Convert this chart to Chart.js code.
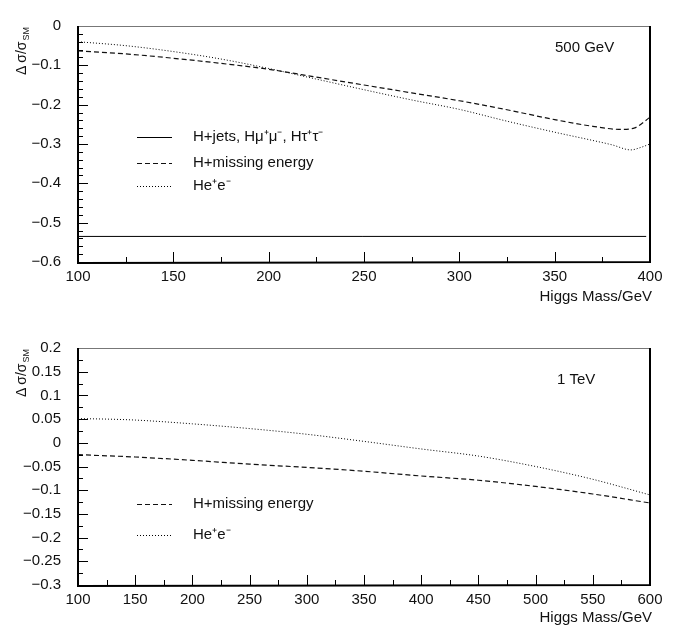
<!DOCTYPE html>
<html>
<head>
<meta charset="utf-8">
<script src="https://cdn.jsdelivr.net/npm/chart.js@4.4.1/dist/chart.umd.min.js"></script>
<style>
  body { margin: 0; background: #fff; width: 688px; height: 631px; overflow: hidden; position: relative; }
  .panel { position: absolute; left: 0; width: 688px; }
  #top { top: 0; height: 310px; }
  #bottom { top: 322px; height: 309px; }
</style>
</head>
<body>
<div class="panel" id="top"><canvas id="chart500" width="688" height="310"></canvas></div>
<div class="panel" id="bottom"><canvas id="chart1000" width="688" height="309"></canvas></div>
<script>
// --- 500 GeV panel ---
const jetsMass500 = [100, 398];
const jetsDelta500 = [-0.535, -0.535];
const missMass500 = [100, 125, 150, 175, 200, 225, 250, 275, 300, 325, 350, 370, 385, 392, 400];
const missDelta500 = [-0.063, -0.071, -0.082, -0.095, -0.110, -0.130, -0.150, -0.170, -0.190, -0.213, -0.238, -0.255, -0.263, -0.259, -0.232];
const eeMass500 = [100, 125, 150, 175, 200, 225, 250, 275, 300, 325, 350, 370, 380, 390, 395, 400];
const eeDelta500 = [-0.040, -0.050, -0.065, -0.084, -0.108, -0.135, -0.162, -0.188, -0.212, -0.242, -0.270, -0.291, -0.302, -0.315, -0.309, -0.300];
const xTicks500 = [100, 150, 200, 250, 300, 350, 400];
const yTicks500 = [0, -0.1, -0.2, -0.3, -0.4, -0.5, -0.6];

// --- 1 TeV panel ---
const missMass1000 = [100, 150, 200, 250, 300, 350, 400, 450, 500, 550, 600];
const missDelta1000 = [-0.025, -0.030, -0.037, -0.045, -0.052, -0.060, -0.070, -0.079, -0.092, -0.108, -0.127];
const eeMass1000 = [100, 125, 150, 200, 250, 300, 350, 400, 450, 500, 550, 600];
const eeDelta1000 = [0.051, 0.050, 0.048, 0.040, 0.030, 0.018, 0.003, -0.013, -0.028, -0.050, -0.077, -0.110];
const xTicks1000 = [100, 150, 200, 250, 300, 350, 400, 450, 500, 550, 600];
const yTicks1000 = [0.2, 0.15, 0.1, 0.05, 0, -0.05, -0.1, -0.15, -0.2, -0.25, -0.3];

const FONT = 'Liberation Sans, Arial, Helvetica, sans-serif';
const INK = '#111';

function points(xs, ys) {
  return xs.map((x, i) => ({ x: x, y: ys[i] }));
}

function fmt(v) {
  return parseFloat(Number(v).toFixed(3)).toString().replace('-', '\u2212');
}

// frame, inward ticks, y title, x title, note and the legend
const paperStyle = {
  id: 'paperStyle',
  afterDraw(chart, args, o) {
    const { ctx, chartArea: a, scales } = chart;
    const x = scales.x, y = scales.y;
    ctx.save();

    // ticks on the left axis
    ctx.strokeStyle = '#000';
    ctx.lineWidth = 1;
    ctx.beginPath();
    for (let v = y.min; v <= y.max + 1e-9; v += o.yMinor) {
      const r = v / o.yMajor;
      const major = Math.abs(r - Math.round(r)) < 1e-6;
      const py = Math.round(y.getPixelForValue(v)) + 0.5;
      ctx.moveTo(a.left, py);
      ctx.lineTo(a.left + (major ? 10 : 5), py);
    }
    // ticks on the bottom axis
    for (let v = x.min; v <= x.max + 1e-9; v += o.xMinor) {
      const r = v / o.xMajor;
      const major = Math.abs(r - Math.round(r)) < 1e-6;
      const px = Math.round(x.getPixelForValue(v)) + 0.5;
      ctx.moveTo(px, a.bottom);
      ctx.lineTo(px, a.bottom - (major ? 10 : 5));
    }
    ctx.stroke();

    // frame
    ctx.strokeStyle = '#777';
    ctx.lineWidth = 1;
    ctx.beginPath();
    ctx.moveTo(a.left, Math.round(a.top) + 0.5);
    ctx.lineTo(a.right, Math.round(a.top) + 0.5);
    ctx.stroke();
    ctx.strokeStyle = '#000';
    ctx.lineWidth = 2;
    ctx.beginPath();
    ctx.moveTo(a.right, a.top);
    ctx.lineTo(a.right, a.bottom);
    ctx.moveTo(a.left, a.top);
    ctx.lineTo(a.left, a.bottom + 1);
    ctx.lineTo(a.right + 1, a.bottom);
    ctx.stroke();

    ctx.fillStyle = INK;

    // y title, rotated: "Δσ/σ" with subscript SM
    ctx.save();
    ctx.translate(22, a.top + 1);
    ctx.rotate(-Math.PI / 2);
    ctx.textBaseline = 'middle';
    ctx.textAlign = 'left';
    ctx.font = '14px ' + FONT;
    const wD = ctx.measureText('\u0394').width;
    const main = '\u03c3/\u03c3';
    const wMain = ctx.measureText(main).width;
    ctx.font = '9px ' + FONT;
    const wSub = ctx.measureText('SM').width;
    const start = -(wD + 3 + wMain + wSub + 1);
    ctx.font = '14px ' + FONT;
    ctx.fillText('\u0394', start, 0);
    ctx.fillText(main, start + wD + 3, 0);
    ctx.font = '9px ' + FONT;
    ctx.fillText('SM', -wSub, 5);
    ctx.restore();

    // x title
    ctx.font = '15px ' + FONT;
    ctx.textAlign = 'right';
    ctx.textBaseline = 'middle';
    ctx.fillText('Higgs Mass/GeV', a.right + 2, o.xTitleY);

    // energy note
    ctx.textAlign = 'left';
    ctx.fillText(o.note, o.noteX, o.noteY);

    // legend
    chart.data.datasets.forEach((ds, i) => {
      const ly = o.legendY[i];
      ctx.save();
      ctx.strokeStyle = ds.borderColor;
      ctx.lineWidth = ds.borderWidth;
      ctx.setLineDash(ds.borderDash || []);
      ctx.beginPath();
      ctx.moveTo(137, Math.round(ly) + 0.5);
      ctx.lineTo(172, Math.round(ly) + 0.5);
      ctx.stroke();
      ctx.restore();
      ctx.fillText(ds.label, 193, ly);
    });

    ctx.restore();
  }
};

function lineSet(label, xs, ys, dash, color, width) {
  return {
    label: label,
    data: points(xs, ys),
    borderColor: color,
    borderWidth: width,
    borderDash: dash,
    pointRadius: 0,
    fill: false,
    cubicInterpolationMode: 'monotone'
  };
}

function makeChart(id, datasets, xr, xTicks, yr, yTicks, axisHeight, extra) {
  return new Chart(document.getElementById(id), {
    type: 'line',
    data: { datasets: datasets },
    options: {
      responsive: false,
      animation: false,
      layout: { padding: { left: 0, right: 38, top: 11, bottom: 0 } },
      plugins: {
        legend: { display: false },
        tooltip: { enabled: false },
        paperStyle: extra
      },
      scales: {
        x: {
          type: 'linear',
          min: xr[0],
          max: xr[1],
          afterBuildTicks: s => { s.ticks = xTicks.map(v => ({ value: v })); },
          afterFit: s => { s.height = axisHeight; },
          grid: { display: true, drawOnChartArea: false, drawTicks: false },
          border: { display: false },
          ticks: { padding: 6, maxRotation: 0, autoSkip: false, color: INK, font: { family: FONT, size: 15 }, callback: v => fmt(v) }
        },
        y: {
          min: yr[0],
          max: yr[1],
          afterBuildTicks: s => { s.ticks = yTicks.map(v => ({ value: v })); },
          afterFit: s => { s.width = 78; },
          grid: { display: true, drawOnChartArea: false, drawTicks: false },
          border: { display: false },
          ticks: { padding: 17, autoSkip: false, color: INK, font: { family: FONT, size: 15 }, callback: v => fmt(v) }
        }
      }
    },
    plugins: [paperStyle]
  });
}

makeChart('chart500', [
  lineSet('H+jets, H\u03bc\u207a\u03bc\u207b, H\u03c4\u207a\u03c4\u207b', jetsMass500, jetsDelta500, [], '#000', 1),
  lineSet('H+missing energy', missMass500, missDelta500, [5, 3], '#111', 1.2),
  lineSet('He\u207ae\u207b', eeMass500, eeDelta500, [1, 2], '#000', 1)
], [100, 400], xTicks500, [-0.6, 0], yTicks500, 48, {
  yMinor: 0.02, yMajor: 0.1, xMinor: 25, xMajor: 50,
  xTitleY: 297, note: '500 GeV', noteX: 555, noteY: 48,
  legendY: [137, 162.5, 186]
});

makeChart('chart1000', [
  lineSet('H+missing energy', missMass1000, missDelta1000, [5, 3], '#111', 1.2),
  lineSet('He\u207ae\u207b', eeMass1000, eeDelta1000, [1, 2], '#000', 1)
], [100, 600], xTicks1000, [-0.3, 0.2], yTicks1000, 46, {
  yMinor: 0.025, yMajor: 0.05, xMinor: 25, xMajor: 50,
  xTitleY: 296, note: '1 TeV', noteX: 557, noteY: 58,
  legendY: [182, 213]
});
</script>
</body>
</html>
